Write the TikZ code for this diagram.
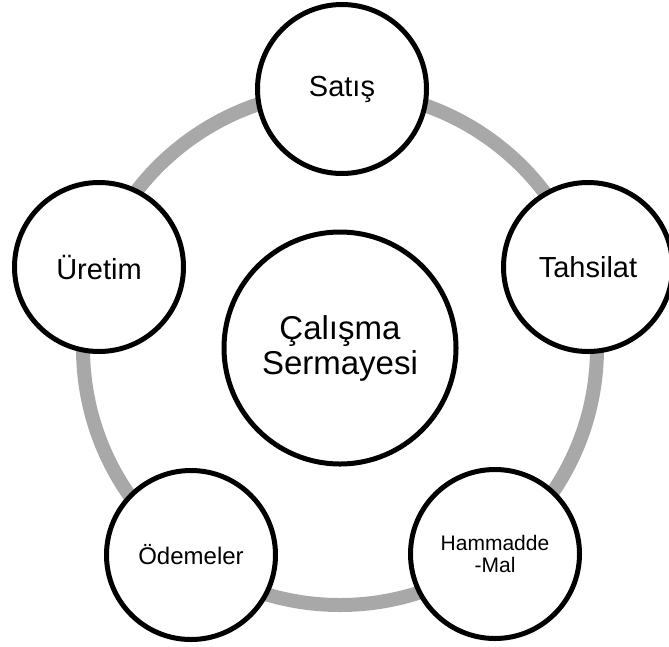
\documentclass[tikz,border=0pt]{standalone}
\usepackage{fontspec}
\setmainfont{Liberation Sans}
\definecolor{ringgray}{RGB}{168,168,168}
\begin{document}
\begin{tikzpicture}[x=1pt,y=-1pt,
  cycle/.style={draw=ringgray, line width=14pt},
  hub/.style={circle, draw=black, line width=5pt, fill=white,
    minimum size=232pt, inner sep=0pt, align=center,
    font=\fontsize{33}{35}\selectfont},
  stage/.style={circle, draw=black, line width=5pt, fill=white,
    minimum size=169pt, inner sep=0pt, align=center,
    font=\fontsize{29}{31}\selectfont},
  smallstage/.style={stage, font=\fontsize{21}{22}\selectfont}]
  \useasboundingbox (0,0) rectangle (669,646);
  % centre of the cycle
  \coordinate (c) at (340,348);
  % grey cycle ring behind the stages
  \draw[cycle] (c) circle[radius=257];
  % stages of the working-capital cycle
  \node[hub] (hub) at (c) {Çalışma\\Sermayesi};
  \node[stage] (satis) at (342,89) {Satış};
  \node[stage] (tahsilat) at (588,267) {Tahsilat};
  \node[smallstage] (hammadde) at (495,554) {Hammadde\\-Mal};
  \node[smallstage, font=\fontsize{24}{26}\selectfont] (odemeler) at (191,555) {Ödemeler};
  \node[stage] (uretim) at (99,267) {Üretim};
\end{tikzpicture}
\end{document}
